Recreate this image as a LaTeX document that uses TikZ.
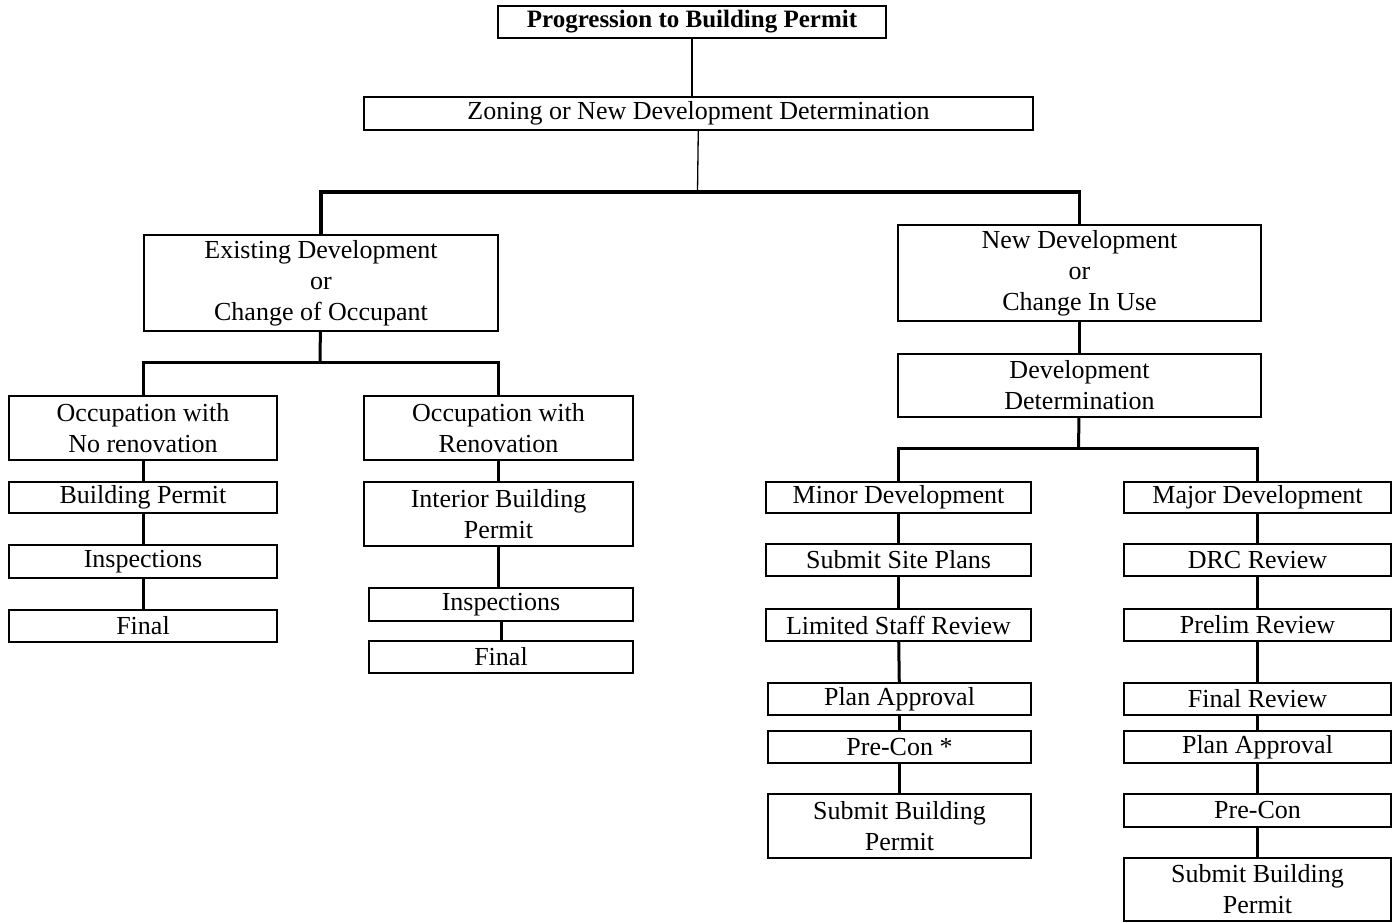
\documentclass[tikz,border=0pt]{standalone}
\usepackage{fontspec}
\setmainfont{Liberation Serif}
\usetikzlibrary{positioning}

\begin{document}
\begin{tikzpicture}
		[x=1pt, y=-1pt,
		box/.style={draw=black, line width=2pt, anchor=north west, inner sep=0pt, align=center, font=\fontsize{26}{31}\selectfont},
		link/.style={line width=3pt},
		bus/.style={line width=3.5pt},
		thinlink/.style={line width=1.3pt}]
		\useasboundingbox (0,0) rectangle (1400,923);
		% top of the tree
		\node[box, font=\bfseries\fontsize{25}{28}\selectfont, minimum width=388pt, minimum height=32pt] (title) at (497,5) {Progression to Building Permit};
		\node[box, minimum width=669pt, minimum height=33pt] (zoning) at (363,96) {Zoning or New Development Determination};
		\node[box, minimum width=354pt, minimum height=96pt] (existing) at (143,234) {Existing Development\\or\\Change of Occupant};
		\node[box, minimum width=363pt, minimum height=96pt] (newdev) at (897,224) {New Development\\or\\Change In Use};
		% existing development
		\node[box, minimum width=268pt, minimum height=64pt] (occno) at (8,395) {Occupation with\\No renovation};
		\node[box, minimum width=269pt, minimum height=64pt] (occren) at (363,395) {Occupation with\\Renovation};
		\node[box, minimum width=268pt, minimum height=31pt] (bp) at (8,481) {Building Permit};
		\node[box, minimum width=268pt, minimum height=33pt] (insp) at (8,544) {Inspections};
		\node[box, minimum width=268pt, minimum height=32pt] (final) at (8,609) {Final};
		\node[box, minimum width=269pt, minimum height=64pt] (intbp) at (363,481) {Interior Building\\Permit};
		\node[box, minimum width=264pt, minimum height=33pt] (insptwo) at (368,587) {Inspections};
		\node[box, minimum width=264pt, minimum height=32pt] (finaltwo) at (368,640) {Final};
		% new development
		\node[box, minimum width=363pt, minimum height=63pt] (devdet) at (897,353) {Development\\Determination};
		\node[box, minimum width=265pt, minimum height=31pt] (minor) at (765,481) {Minor Development};
		\node[box, minimum width=267pt, minimum height=31pt] (major) at (1123,481) {Major Development};
		\node[box, minimum width=265pt, minimum height=32pt] (site) at (765,543) {Submit Site Plans};
		\node[box, minimum width=267pt, minimum height=32pt] (drc) at (1123,543) {DRC Review};
		\node[box, minimum width=265pt, minimum height=32pt] (limited) at (765,608) {Limited Staff Review};
		\node[box, minimum width=267pt, minimum height=32pt] (prelim) at (1123,608) {Prelim Review};
		\node[box, minimum width=263pt, minimum height=32pt] (approval) at (767,682) {Plan Approval};
		\node[box, minimum width=267pt, minimum height=32pt] (finalrev) at (1123,682) {Final Review};
		\node[box, minimum width=263pt, minimum height=32pt] (precon) at (767,730) {Pre-Con *};
		\node[box, minimum width=267pt, minimum height=32pt] (approvaltwo) at (1123,730) {Plan Approval};
		\node[box, minimum width=263pt, minimum height=64pt] (submit) at (767,793) {Submit Building\\Permit};
		\node[box, minimum width=267pt, minimum height=33pt] (precontwo) at (1123,793) {Pre-Con};
		\node[box, minimum width=267pt, minimum height=63pt] (submittwo) at (1123,857) {Submit Building\\Permit};
		% connectors
		\coordinate (top) at (697.5,192);
		\coordinate (mid) at (320,362);
		\coordinate (low) at (1078.5,448);
		\draw[thinlink] (title.south) -- (title.south |- zoning.north);
		\draw[thinlink] (zoning) -- (top);
		\draw[bus] (existing.north) |- (top) -| (newdev.north);
		\draw[link] (existing) -- (mid);
		\draw[link] (occno.north) |- (mid) -| (occren.north);
		\draw[link] (newdev) -- (devdet);
		\draw[link] (devdet) -- (low);
		\draw[link] (minor.north) |- (low) -| (major.north);
		\draw[link] (intbp.south) -- (intbp.south |- insptwo.north);
		\foreach \a/\b in {occno/bp, bp/insp, insp/final, occren/intbp, insptwo/finaltwo,
			minor/site, site/limited, limited/approval, approval/precon, precon/submit,
			major/drc, drc/prelim, prelim/finalrev, finalrev/approvaltwo, approvaltwo/precontwo, precontwo/submittwo}
			\draw[link] (\a) -- (\b);
	\end{tikzpicture}
\end{document}
